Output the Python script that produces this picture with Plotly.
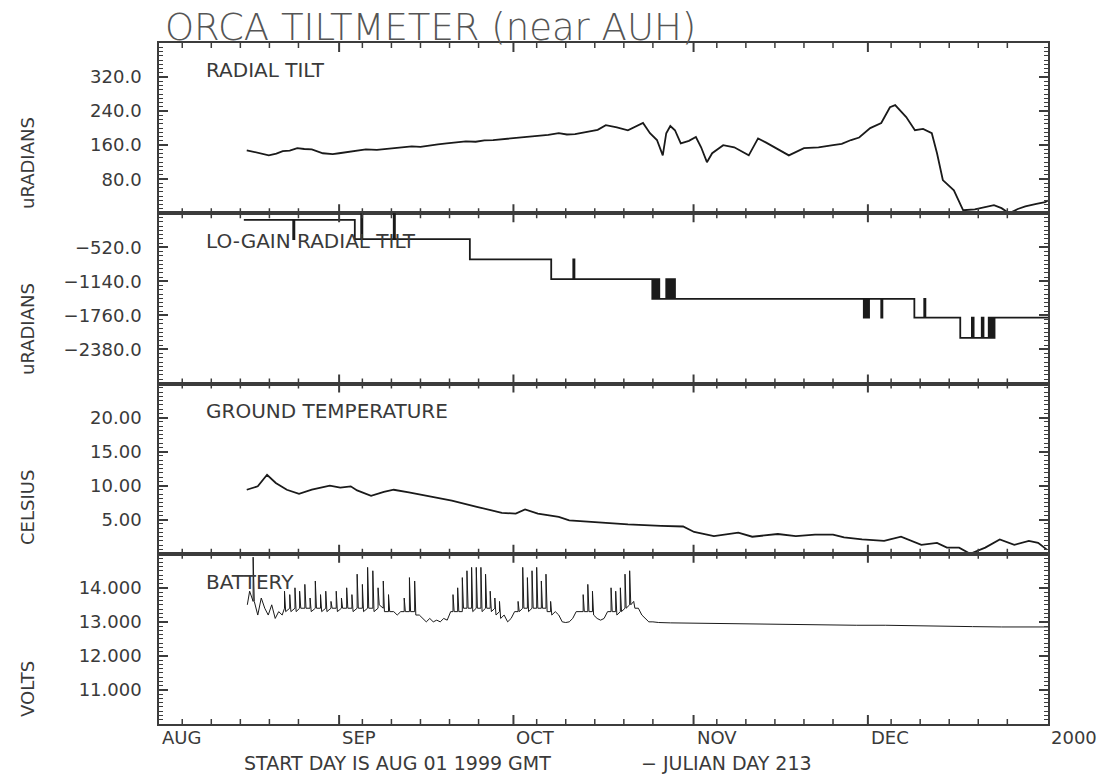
import plotly.graph_objects as go
from plotly.subplots import make_subplots

# ---------------- data (days since AUG 01 1999) ----------------
tilt_day = [15.1, 16.0, 17.0, 18.9, 20.2, 21.3, 22.5, 23.8, 25.0, 26.3, 28.2, 29.9, 31.0, 32.5,
            34.0, 35.6, 37.5, 40.4, 42.0, 43.5, 45.0, 46.6, 48.0, 49.5, 51.0, 52.8, 54.5, 56.0,
            57.5, 59.0, 60.5, 62.0, 63.5, 65.2, 67.0, 68.8, 70.2, 71.6, 73.0, 74.2, 75.5, 76.9,
            78.8, 80.7, 82.0, 83.3, 84.5, 85.7, 86.7, 87.3, 88.0, 88.8, 89.8, 91.2, 92.4, 93.3,
            94.3, 95.2, 97.1, 99.0, 101.5, 103.1, 104.5, 105.9, 107.2, 108.4, 111.0, 113.5,
            116.0, 117.5, 119.1, 120.5, 122.4, 124.3, 125.8, 126.7, 128.6, 130.1, 131.5, 133.0,
            133.9, 134.9, 136.8, 138.4, 140.4, 142.0, 143.7, 145.0, 146.3, 147.8, 149.1, 151.0,
            152.5, 153.0]
tilt_val = [148, 145, 141, 136, 140, 146, 147, 153, 151, 150, 141, 139, 141, 144,
            146, 150, 149, 153, 155, 157, 156, 160, 162, 164, 166, 169, 168, 171,
            172, 174, 175, 178, 180, 183, 184, 188, 185, 186, 189, 192, 196, 207,
            202, 195, 203, 212, 188, 172, 136, 188, 205, 195, 164, 170, 179, 155,
            120, 141, 160, 155, 136, 176, 166, 155, 145, 136, 153, 155,
            160, 163, 172, 178, 200, 212, 249, 254, 226, 195, 198, 188,
            141, 78, 54, 7, 9, 14, 19, 12, 0, 10, 16, 22,
            26, 30]

lo_day = [14.6, 23.1, 23.3, 33.7, 34.8, 35.0, 40.4, 40.6, 53.5, 67.5, 71.3, 71.5,
          84.9, 85.2, 85.5, 85.8, 86.1, 87.3, 87.6, 87.9, 88.2, 88.5, 88.8,
          121.3, 121.6, 121.9, 122.2, 124.3, 124.5, 130.0, 131.7, 131.9,
          137.9, 139.9, 140.2, 141.6, 141.9, 142.8, 143.0, 143.3, 143.5, 143.8, 153.0]
lo_val = [-20, -370, -20, -370, 100, -370, 100, -370, -740, -1100, -740, -1100,
          -1460, -1100, -1460, -1100, -1460, -1100, -1460, -1100, -1460, -1100, -1460,
          -1800, -1460, -1800, -1460, -1800, -1460, -1800, -1460, -1800,
          -2170, -1800, -2170, -1800, -2170, -1800, -2170, -1800, -2170, -1800, -1800]

temp_day = [15.1, 17.0, 18.6, 20.1, 22.0, 24.1, 26.3, 29.4, 31.2, 33.0, 34.1, 36.5, 38.7,
            40.4, 43.0, 46.6, 50.4, 54.7, 59.0, 61.4, 63.0, 65.2, 68.8, 70.6, 75.0, 80.7,
            86.4, 90.2, 92.1, 95.5, 99.7, 102.1, 106.5, 109.6, 112.9, 116.0, 117.9, 121.0,
            124.8, 127.7, 131.2, 133.9, 135.6, 137.7, 139.6, 142.2, 144.7, 147.2, 149.7,
            151.3, 152.8]
temp_val = [9.4, 9.9, 11.6, 10.4, 9.4, 8.8, 9.4, 10.0, 9.7, 9.9, 9.3, 8.5, 9.1,
            9.4, 9.0, 8.4, 7.8, 6.9, 6.0, 5.9, 6.5, 5.9, 5.4, 4.9, 4.6, 4.3,
            4.1, 4.0, 3.2, 2.6, 3.1, 2.5, 2.9, 2.6, 2.8, 2.8, 2.4, 2.1,
            1.9, 2.5, 1.3, 1.6, 0.9, 0.9, 0.0, 0.9, 2.1, 1.3, 1.9,
            1.6, 0.6]

# battery: baseline samples with near-vertical spikes (same day repeated)
batt_day = [15.2, 15.6, 16.2, 16.2, 16.4, 17.0, 17.6, 18.2, 18.8, 19.4, 20.0, 20.6, 21.2,
            21.6, 21.6, 21.8, 22.5, 22.5, 22.7, 23.4, 23.4, 23.6, 24.2, 24.2, 24.4, 25.1, 25.1,
            25.3, 26.0, 26.0, 26.2, 26.9, 26.9, 27.1, 27.8, 27.8, 28.0, 28.7, 28.7, 28.9, 29.6,
            29.6, 29.8, 30.5, 30.5, 30.7, 31.4, 31.4, 31.6, 32.3, 32.3, 32.5, 33.2, 33.2, 33.4,
            34.1, 34.1, 34.3, 35.0, 35.0, 35.2, 35.9, 35.9, 36.1, 36.8, 36.8, 37.0, 37.7, 37.7,
            37.9, 38.6, 38.6, 38.8, 39.5, 39.5, 39.7, 40.4, 41.0, 41.6, 42.2, 42.2, 42.4, 43.1,
            43.1, 43.3, 44.0, 44.0, 44.2, 44.8, 45.4, 46.0, 46.6, 47.2, 47.8, 48.4, 49.0, 49.6,
            50.2, 50.6, 50.6, 50.8, 51.4, 51.4, 51.6, 52.2, 52.2, 52.4, 53.0, 53.0, 53.2, 53.8,
            53.8, 54.0, 54.6, 54.6, 54.8, 55.4, 55.4, 55.6, 56.2, 56.2, 56.4, 57.0, 57.0, 57.2,
            57.8, 57.8, 58.0, 58.6, 58.6, 58.8, 59.4, 60.0, 60.6, 61.2, 61.8, 61.8, 62.0, 62.6,
            62.6, 62.8, 63.4, 63.4, 63.6, 64.2, 64.2, 64.4, 65.0, 65.0, 65.2, 65.8, 65.8, 66.0,
            66.6, 66.6, 66.8, 67.4, 67.4, 67.6, 68.2, 68.8, 69.4, 70.0, 70.6, 71.2, 71.8, 72.4,
            73.0, 73.0, 73.2, 73.8, 73.8, 74.0, 74.6, 74.6, 74.8, 75.4, 76.0, 76.6, 77.2, 77.8,
            77.8, 78.0, 78.6, 78.6, 78.8, 79.4, 79.4, 79.6, 80.2, 80.2, 80.4, 81.0, 81.0, 81.2,
            81.7, 81.7, 81.9, 82.5, 83.1, 83.7, 84.3, 85.0, 86.0, 88.0, 92.0, 96.0, 100.0,
            105.0, 110.0, 115.0, 120.0, 125.0, 130.0, 135.0, 140.0, 145.0, 150.0, 153.0]
batt_val = [13.5, 13.9, 13.6, 14.9, 13.6, 13.2, 13.7, 13.4, 13.2, 13.5, 13.1, 13.3, 13.2,
            13.4, 13.9, 13.3, 13.4, 13.8, 13.3, 13.4, 14.0, 13.3, 13.4, 13.9, 13.4, 13.4, 14.1,
            13.4, 13.4, 13.7, 13.3, 13.4, 14.2, 13.4, 13.4, 13.8, 13.3, 13.4, 13.9, 13.3, 13.4,
            13.6, 13.4, 13.4, 13.9, 13.3, 13.4, 13.7, 13.4, 13.4, 14.0, 13.4, 13.4, 13.8, 13.3,
            13.4, 14.4, 13.4, 13.4, 14.1, 13.3, 13.4, 14.6, 13.4, 13.4, 14.5, 13.3, 13.4, 14.0,
            13.5, 13.4, 14.2, 13.3, 13.3, 13.8, 13.3, 13.3, 13.2, 13.3, 13.3, 13.7, 13.3, 13.3,
            14.3, 13.3, 13.3, 14.2, 13.2, 13.2, 13.1, 13.0, 13.1, 13.0, 13.05, 13.0, 13.1, 13.05,
            13.3, 13.3, 13.8, 13.3, 13.3, 14.0, 13.3, 13.3, 14.3, 13.4, 13.4, 14.5, 13.4, 13.4,
            14.6, 13.3, 13.4, 14.6, 13.4, 13.4, 14.6, 13.3, 13.4, 14.4, 13.4, 13.4, 13.9, 13.3,
            13.4, 13.7, 13.2, 13.3, 13.6, 13.1, 13.2, 13.0, 13.1, 13.3, 13.3, 13.6, 13.3, 13.4,
            14.6, 13.4, 13.4, 14.3, 13.3, 13.4, 14.5, 13.4, 13.4, 14.6, 13.4, 13.4, 14.2, 13.4,
            13.4, 14.4, 13.3, 13.3, 13.6, 13.2, 13.3, 13.2, 13.0, 12.98, 13.0, 13.1, 13.3, 13.3,
            13.3, 13.8, 13.3, 13.3, 14.1, 13.3, 13.3, 13.9, 13.2, 13.1, 13.05, 13.1, 13.3, 13.3,
            14.0, 13.3, 13.3, 13.9, 13.2, 13.3, 14.0, 13.3, 13.4, 14.4, 13.4, 13.5, 14.5, 13.5,
            13.6, 13.6, 13.4, 13.4, 13.2, 13.1, 13.0, 13.0, 12.98, 12.97, 12.96, 12.95, 12.95,
            12.93, 12.93, 12.92, 12.9, 12.9, 12.88, 12.87, 12.86, 12.85, 12.85, 12.85]

month_days = [0, 31, 61, 92, 122, 153]
month_labels = ["AUG", "SEP", "OCT", "NOV", "DEC", "2000"]
minor_days = [4, 9, 14, 19, 24, 35, 40, 45, 50, 55, 65, 70, 75, 80, 85,
              96, 101, 106, 111, 116, 126, 131, 136, 141, 146]

panel_titles = ["RADIAL TILT", "LO-GAIN RADIAL TILT", "GROUND TEMPERATURE", "BATTERY"]
y_titles = ["uRADIANS", "uRADIANS", "CELSIUS", "VOLTS"]
y_ranges = [[0, 400], [-3000, 100], [0, 25], [10, 15]]
y_tickvals = [[80, 160, 240, 320], [-520, -1140, -1760, -2380], [5, 10, 15, 20], [11, 12, 13, 14]]
y_ticktext = [["80.0", "160.0", "240.0", "320.0"],
              ["\u2212520.0", "\u22121140.0", "\u22121760.0", "\u22122380.0"],
              ["5.00", "10.00", "15.00", "20.00"],
              ["11.000", "12.000", "13.000", "14.000"]]
y_minor = [10, 77.5, 0.625, 0.125]

title_text = "ORCA TILTMETER (near AUH)"
footer_left = "START DAY IS AUG 01 1999 GMT"
footer_right = "\u2212 JULIAN DAY 213"

# ---------------- layout geometry (pixels) ----------------
W, H = 1116, 777
L, R, T, B = 159, 1048, 43, 724


def px(xp):
    return (xp - L) / (R - L)


def py(yp):
    return (B - yp) / (B - T)


FONT = "DejaVu Sans"
TXT = "#3a3a3a"
AX = "#3c3c3c"

fig = make_subplots(rows=4, cols=1, shared_xaxes=True, vertical_spacing=0)

series = [(tilt_day, tilt_val, "linear", 1.8), (lo_day, lo_val, "hv", 1.8),
          (temp_day, temp_val, "linear", 1.8), (batt_day, batt_val, "linear", 1.0)]
for i, (xd, yd, shp, lw) in enumerate(series):
    fig.add_trace(go.Scatter(x=xd, y=yd, mode="lines", line=dict(color="#1a1a1a", width=lw, shape=shp),
                             showlegend=False, hoverinfo="skip"), row=i + 1, col=1)

for i in range(4):
    fig.update_xaxes(range=[0, 153], showticklabels=False, ticks="",
                     showline=True, linecolor=AX, linewidth=1.5, mirror=True,
                     showgrid=False, zeroline=False, row=i + 1, col=1)
    fig.update_yaxes(range=y_ranges[i], tickmode="array", tickvals=y_tickvals[i], ticktext=y_ticktext[i],
                     ticks="inside", ticklen=9, tickwidth=1.5, tickcolor=AX,
                     minor=dict(dtick=y_minor[i], tick0=y_tickvals[i][0], ticks="inside", ticklen=4,
                                tickwidth=1, tickcolor=AX),
                     showline=True, linecolor=AX, linewidth=1.5, mirror="ticks",
                     showgrid=False, zeroline=False, ticklabelstandoff=12,
                     tickfont=dict(family=FONT, size=18, color=TXT), row=i + 1, col=1)

# x-axis tick marks: inside ticks at the top and bottom edge of every panel (x through the axis)
shapes = []
edges = [0.0, 0.25, 0.5, 0.75, 1.0]
for e_i, e in enumerate(edges):
    for vals, ln, wd in ((month_days[1:-1], 9, 2), (minor_days, 5, 1.5)):
        f = ln / (B - T)
        y_lo = e - f if e_i > 0 else e
        y_hi = e + f if e_i < 4 else e
        for d in vals:
            shapes.append(dict(type="line", xref="x4", yref="paper", x0=d, x1=d, y0=y_lo, y1=y_hi,
                               line=dict(color=AX, width=wd)))

ann = []
ytitle_centers = [163, 329, 508, 689]
ptitle_centers = [70, 241, 411, 582]
for i in range(4):
    ann.append(dict(text=y_titles[i], xref="paper", yref="paper", x=px(27), y=py(ytitle_centers[i]),
                    textangle=-90, showarrow=False, xanchor="center", yanchor="middle",
                    font=dict(family=FONT, size=18, color=TXT)))
    ann.append(dict(text=panel_titles[i], xref="paper", yref="paper", x=px(204), y=py(ptitle_centers[i]),
                    showarrow=False, xanchor="left", yanchor="middle",
                    font=dict(family=FONT, size=20, color=TXT)))
for d, lab in zip(month_days, month_labels):
    ann.append(dict(text=lab, xref="x4", yref="paper", x=d, y=py(737), xshift=1,
                    showarrow=False, xanchor="left", yanchor="middle",
                    font=dict(family=FONT, size=18, color=TXT)))
ann.append(dict(text=footer_left, xref="paper", yref="paper", x=px(242), y=py(763),
                showarrow=False, xanchor="left", yanchor="middle", font=dict(family=FONT, size=19, color=TXT)))
ann.append(dict(text=footer_right, xref="paper", yref="paper", x=px(639), y=py(763),
                showarrow=False, xanchor="left", yanchor="middle", font=dict(family=FONT, size=19, color=TXT)))

fig.update_layout(
    width=W, height=H, margin=dict(l=L, r=W - R, t=T, b=H - B),
    paper_bgcolor="white", plot_bgcolor="white",
    title=dict(text=title_text, x=165 / W, xanchor="left", xref="container",
               y=1 - 27 / H, yanchor="middle", yref="container",
               font=dict(family=FONT, size=37, color="#555555", weight=300)),
    annotations=ann, shapes=shapes, showlegend=False,
)

fig.write_html("out.html")
